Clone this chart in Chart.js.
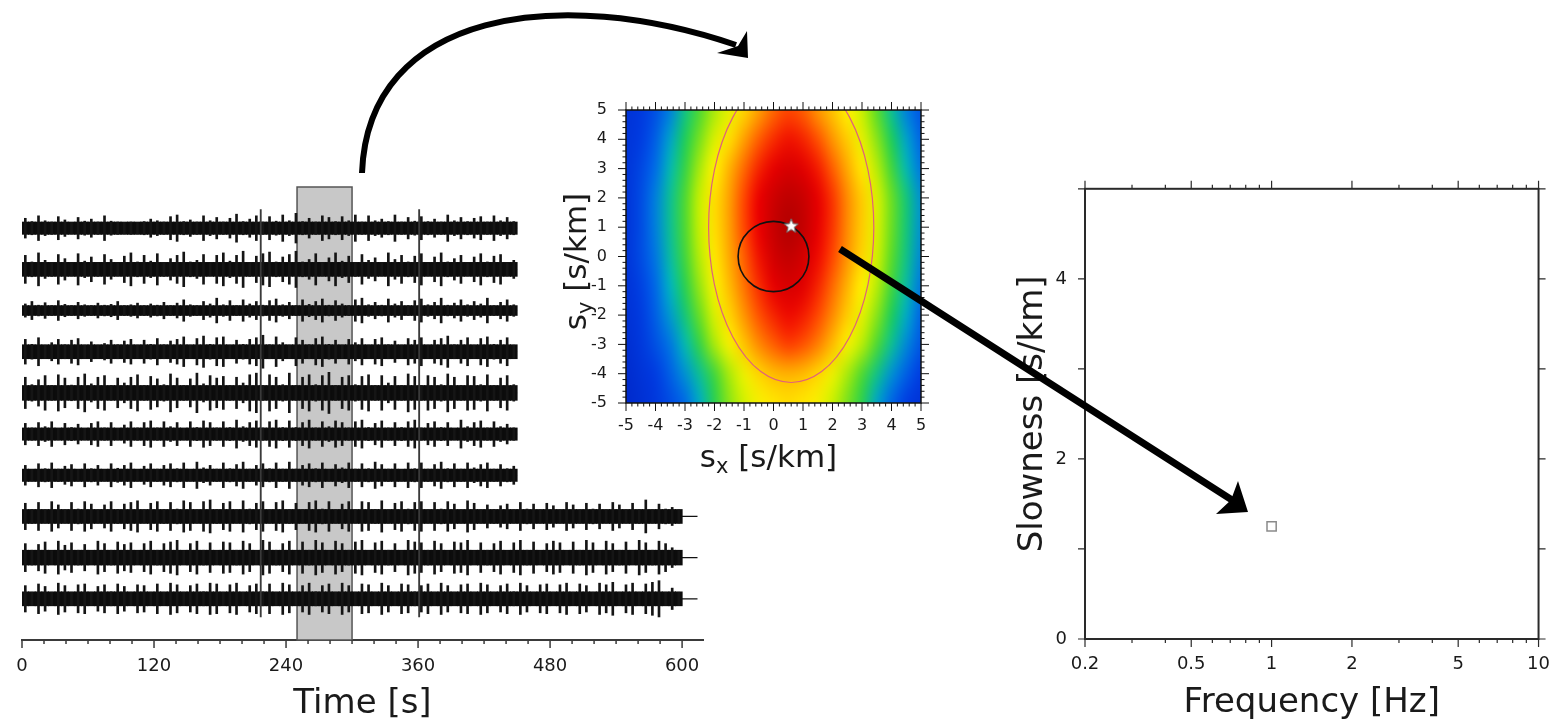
<!DOCTYPE html>
<html>
<head>
<meta charset="utf-8">
<title>Array beamforming: traces, slowness map, dispersion</title>
<script src="https://cdn.jsdelivr.net/npm/chart.js@4.4.1/dist/chart.umd.min.js"></script>
<style>
  html, body { margin: 0; padding: 0; background: #ffffff; }
  body { width: 1552px; height: 723px; position: relative; overflow: hidden; }
  canvas { position: absolute; }
</style>
</head>
<body>
<canvas id="traces" width="720" height="563" style="left:0px;top:160px"></canvas>
<canvas id="slowmap" width="420" height="420" style="left:520px;top:80px"></canvas>
<canvas id="freq" width="575" height="563" style="left:990px;top:160px"></canvas>
<canvas id="arrows" width="1552" height="723" style="left:0px;top:0px;pointer-events:none"></canvas>
<script>
// ---------------- seismogram section ----------------
// envelope peaks per 6 s bin, in hundredths of the trace spacing
const binSeconds = 6;
const trace1 = [24,16,30,18,15,28,20,14,26,17, 22,15,30,17,15,14,15,14,16,22, 18,15,28,32,16,20,15,30,18,26, 15,24,34,16,22,30,15,28,17,32, 18,36,16,24,15,30,26,16,28,18, 32,15,30,18,22,16,32,15,26,17, 28,16,22,15,32,18,26,16,24,28, 15,30,18,26,16];
const trace2 = [34,18,40,22,17,36,26,16,38,20, 30,17,36,24,16,32,40,18,34,20, 38,17,26,34,42,18,22,36,16,34, 40,20,34,44,17,32,38,42,18,30, 36,44,18,24,38,16,28,40,20,32, 17,36,22,28,16,40,24,34,18,32, 38,16,30,40,18,26,34,16,30,38, 18,32,36,16,22];
const trace3 = [16,22,13,19,12,24,15,12,20,14, 12,18,13,15,22,12,14,18,12,16, 13,20,12,18,26,14,12,22,16,30, 14,24,12,26,16,22,13,24,28,14, 20,12,26,15,22,28,13,24,16,12, 26,30,14,20,13,28,16,22,12,24, 28,14,20,30,13,18,26,14,22,16, 30,12,20,26,14];
const trace4 = [30,18,34,16,22,30,17,28,32,16, 24,16,20,28,17,26,30,16,28,18, 32,17,26,30,36,16,32,38,18,34, 36,16,28,18,30,34,40,17,36,22, 16,34,28,17,32,36,18,28,16,30, 22,32,16,30,34,17,26,16,32,28, 34,16,28,32,38,17,28,34,16,32, 36,18,28,34,16];
const trace5 = [38,20,32,42,18,44,36,19,38,46, 22,38,42,18,36,24,38,44,18,40, 34,20,46,36,18,34,48,22,42,36, 40,18,38,24,44,48,18,44,38,20, 48,18,38,44,20,42,50,18,38,42, 20,40,44,18,42,24,40,18,46,40, 18,42,38,20,46,38,18,42,40,20, 44,18,36,42,20];
const trace6 = [26,15,28,18,30,14,26,16,24,14, 26,30,15,28,14,22,30,15,28,32, 15,30,18,28,14,30,16,32,28,15, 30,16,34,18,28,32,15,30,34,16, 32,16,28,34,15,30,18,32,28,15, 30,34,16,26,32,15,28,16,30,34, 15,26,30,16,28,14,34,18,28,32, 15,30,18,24,15];
const trace7 = [24,14,28,16,30,15,22,26,14,28, 16,24,14,28,17,24,30,14,22,28, 15,24,28,16,30,14,32,18,24,15, 30,16,26,32,15,24,28,16,30,15, 32,15,24,28,16,30,14,26,18,30, 15,28,16,32,26,15,28,14,30,16, 30,15,26,32,16,28,15,30,18,26, 30,15,26,16,22];
const trace8 = [32,17,34,16,36,28,16,34,18,36, 30,16,28,36,17,30,34,38,16,32, 36,17,34,18,38,34,16,36,40,17, 32,36,16,38,18,32,36,16,34,38, 17,32,16,34,38,18,36,16,30,36, 16,36,34,17,38,16,32,36,18,34, 36,16,34,18,36,30,16,38,32,16, 28,17,26,30,16,34,18,30,16,32, 26,16,34,28,16,32,18,30,16,34, 28,16,32,17,40,16,30,18,22,16];
const trace9 = [34,18,32,38,17,40,30,36,18,32, 17,40,34,18,38,32,36,17,34,40, 18,34,38,42,17,34,40,18,36,17, 38,36,18,40,34,17,42,38,18,34, 40,17,38,18,42,36,17,40,34,18, 38,42,17,36,40,18,34,17,42,38, 36,18,40,34,17,38,36,42,17,36, 18,34,40,17,36,42,18,38,17,34, 40,36,17,38,18,42,36,17,40,34, 18,38,17,42,36,18,40,34,24,16];
const trace10 = [32,16,36,30,16,38,32,16,34,36, 16,30,34,17,36,30,16,34,32,16, 36,16,38,34,16,32,36,17,38,36, 16,34,38,16,32,36,17,36,16,38, 34,16,32,38,17,32,36,16,38,32, 16,36,34,16,38,32,16,36,34,17, 32,36,16,38,32,16,34,36,16,38, 34,16,32,36,17,38,32,16,34,36, 16,34,38,16,36,32,16,38,34,40, 16,34,38,16,36,40,44,16,26,16];
const traceCore = [15, 17, 12, 17, 18, 15, 15, 17, 18, 17];        // steady noise half-width
const traceEnds = [450, 450, 450, 450, 450, 450, 450, 614, 614, 614]; // record length (s)
const glitchTimes = [217, 361];          // spikes seen on every station (s)
const glitchSpan = [0.56, 10.45];        // vertical extent in trace units
const windowStart = 250;                 // analysis window (s)
const windowEnd = 300;
const windowTop = 11;
const timeLabelStep = 120;
const timeMinorStep = 20;

// ---------------- slowness map ----------------
const sxGrid = [-5,-4.5,-4,-3.5,-3,-2.5,-2,-1.5,-1,-0.5,0,0.5,1,1.5,2,2.5,3,3.5,4,4.5,5];
const syGrid = [5,4,3,2,1,0,-1,-2,-3,-4,-5];
const beamPower = [
  [.14,.18,.24,.32,.42,.49,.55,.60,.66,.72,.77,.80,.78,.73,.68,.63,.57,.50,.41,.32,.25],
  [.15,.20,.27,.36,.45,.52,.59,.65,.72,.78,.83,.86,.84,.79,.73,.67,.60,.53,.45,.36,.28],
  [.15,.22,.30,.39,.47,.55,.63,.70,.77,.84,.89,.92,.90,.85,.78,.71,.64,.56,.48,.39,.31],
  [.15,.23,.32,.41,.49,.57,.65,.72,.80,.88,.94,.97,.95,.89,.82,.74,.67,.59,.51,.43,.34],
  [.15,.23,.32,.41,.49,.57,.65,.72,.80,.88,.95,.99,.96,.89,.82,.74,.67,.59,.51,.43,.34],
  [.15,.23,.31,.40,.48,.56,.64,.71,.78,.86,.93,.96,.93,.87,.80,.73,.66,.58,.50,.42,.33],
  [.14,.21,.29,.38,.46,.54,.62,.69,.76,.83,.89,.92,.90,.84,.77,.70,.63,.56,.48,.40,.31],
  [.13,.19,.27,.35,.43,.51,.59,.66,.73,.79,.84,.87,.85,.80,.74,.67,.60,.53,.45,.37,.28],
  [.11,.17,.24,.31,.39,.47,.55,.62,.68,.74,.78,.81,.79,.75,.69,.62,.56,.49,.41,.33,.25],
  [.09,.14,.20,.27,.34,.41,.48,.55,.61,.66,.69,.70,.69,.66,.61,.55,.49,.42,.34,.27,.20],
  [.08,.12,.17,.23,.29,.37,.46,.53,.58,.62,.64,.65,.64,.62,.57,.52,.46,.36,.28,.20,.14]
];
const colourStops = [0, .20, .30, .38, .45, .50, .57, .63, .72, .80, .88, 1];
const colourRGB = [[0,30,190],[0,60,225],[0,110,230],[0,180,190],[30,205,90],[90,220,40],
                   [200,240,0],[255,240,0],[255,160,0],[255,70,0],[235,0,0],[175,0,0]];
const ellipseCenter = [0.6, 1.0];   // 90% contour
const ellipseAxes = [2.8, 5.3];
const circleCenter = [0, 0];
const circleRadius = 1.2;
const peakSx = [0.6];
const peakSy = [1.05];
const slowTicks = [-5,-4,-3,-2,-1,0,1,2,3,4,5];

// ---------------- slowness vs frequency ----------------
const freqHz = [1];
const slownessSkm = [1.25];
const freqTicks = [0.2, 0.5, 1, 2, 5, 10];
const freqMinor = [0.3, 0.4, 0.6, 0.7, 0.8, 0.9, 3, 4, 6, 7, 8, 9];
const slowAxisTicks = [0, 1, 2, 3, 4, 5];

const FAMILY = 'DejaVu Sans';
const CSSFONT = '"DejaVu Sans", "Liberation Sans", sans-serif';
const INK = '#1a1a1a';

Chart.defaults.font.family = FAMILY;
Chart.defaults.color = INK;

const baseOpts = {
  responsive: false, animation: false, devicePixelRatio: 1, events: [],
  plugins: { legend: { display: false }, tooltip: { enabled: false } }
};

// ================= chart 1: seismograms =================
const traceArrays = [trace1, trace2, trace3, trace4, trace5, trace6, trace7, trace8, trace9, trace10];
const traceSets = [];
traceArrays.forEach((amps, k) => {
  const off = traceArrays.length - k;
  const core = traceCore[k] / 100;
  traceSets.push({
    type: 'line', data: [{ x: 0, y: off }, { x: traceEnds[k], y: off }],
    borderColor: '#111', borderWidth: 1.2, pointRadius: 0, order: 4
  });
  traceSets.push({
    type: 'bar', grouped: false, order: 3, barThickness: 7, backgroundColor: '#0c0c0c',
    data: amps.map((a, i) => ({ x: (i + 0.5) * binSeconds, y: [off - core, off + core] }))
  });
  traceSets.push({
    type: 'bar', grouped: false, order: 2, barThickness: 2, backgroundColor: '#151515',
    data: amps.map((a, i) => ({ x: (i + 0.5) * binSeconds, y: [off - a / 100, off + a / 100] }))
  });
});
traceSets.push({
  type: 'bar', grouped: false, order: 1, barThickness: 1.2, backgroundColor: '#3a3a3a',
  data: glitchTimes.map(t => ({ x: t, y: glitchSpan }))
});

const sectionPlugin = {
  id: 'section',
  beforeDatasetsDraw(chart) {
    const { ctx, scales: { x, y } } = chart;
    const x0 = x.getPixelForValue(windowStart), x1 = x.getPixelForValue(windowEnd);
    const yt = y.getPixelForValue(windowTop), yb = y.getPixelForValue(0);
    ctx.save();
    ctx.fillStyle = '#c8c8c8';
    ctx.fillRect(x0, yt, x1 - x0, yb - yt);
    ctx.strokeStyle = '#555';
    ctx.lineWidth = 1.5;
    ctx.strokeRect(x0, yt, x1 - x0, yb - yt);
    ctx.restore();
  },
  afterDraw(chart) {
    const { ctx, chartArea, scales: { x } } = chart;
    ctx.save();
    ctx.strokeStyle = '#3a3a3a';
    ctx.lineWidth = 1.5;
    for (let t = 0; t <= 600; t += timeMinorStep) {
      const px = x.getPixelForValue(t);
      ctx.beginPath();
      ctx.moveTo(px, chartArea.bottom);
      ctx.lineTo(px, chartArea.bottom + (t % timeLabelStep === 0 ? 8 : 4));
      ctx.stroke();
    }
    ctx.fillStyle = INK;
    ctx.font = '34px ' + CSSFONT;
    ctx.textAlign = 'center';
    ctx.textBaseline = 'alphabetic';
    ctx.fillText('Time [s]', (chartArea.left + chartArea.right) / 2, chartArea.bottom + 73);
    ctx.restore();
  }
};

new Chart(document.getElementById('traces'), {
  type: 'bar',
  data: { datasets: traceSets },
  options: Object.assign({}, baseOpts, {
    layout: { padding: { left: 22, right: 17, top: 27, bottom: 0 } },
    datasets: { bar: { grouped: false } },
    scales: {
      x: {
        type: 'linear', position: 'bottom', min: 0, max: 619, offset: false,
        grid: { display: false, drawTicks: false, offset: false },
        border: { display: true, color: '#3a3a3a', width: 2 },
        ticks: { stepSize: timeLabelStep, includeBounds: false, padding: 16, maxRotation: 0,
                 autoSkip: false, color: INK, font: { family: FAMILY, size: 18 } },
        afterFit(s) { s.height = 83; }
      },
      y: { type: 'linear', min: 0, max: windowTop, display: false }
    }
  }),
  plugins: [sectionPlugin]
});

// ================= chart 2: slowness map =================
function powerColour(v) {
  for (let i = 1; i < colourStops.length; i++) {
    if (v <= colourStops[i]) {
      const f = (v - colourStops[i - 1]) / (colourStops[i] - colourStops[i - 1]);
      const a = colourRGB[i - 1], b = colourRGB[i];
      return [0, 1, 2].map(c => Math.round(a[c] + (b[c] - a[c]) * f));
    }
  }
  return colourRGB[colourRGB.length - 1];
}

function starImage() {
  const c = document.createElement('canvas');
  c.width = 18; c.height = 18;
  const g = c.getContext('2d');
  g.beginPath();
  for (let i = 0; i < 10; i++) {
    const r = i % 2 ? 3.2 : 7.5;
    const ang = -Math.PI / 2 + i * Math.PI / 5;
    const px = 9 + r * Math.cos(ang), py = 9.5 + r * Math.sin(ang);
    if (i === 0) g.moveTo(px, py); else g.lineTo(px, py);
  }
  g.closePath();
  g.fillStyle = '#ffffff';
  g.fill();
  g.strokeStyle = '#6a6a6a';
  g.lineWidth = 1;
  g.stroke();
  return c;
}

function drawSubscripted(ctx, cx, cy, size, sub, rotated) {
  ctx.save();
  ctx.translate(cx, cy);
  if (rotated) ctx.rotate(-Math.PI / 2);
  const main = size + 'px ' + CSSFONT;
  const small = Math.round(size * 0.68) + 'px ' + CSSFONT;
  const rest = ' [s/km]';
  ctx.font = main;
  const w1 = ctx.measureText('s').width, w3 = ctx.measureText(rest).width;
  ctx.font = small;
  const w2 = ctx.measureText(sub).width;
  const x0 = -(w1 + w2 + w3) / 2;
  ctx.fillStyle = INK;
  ctx.textAlign = 'left';
  ctx.textBaseline = 'alphabetic';
  ctx.font = main;
  ctx.fillText('s', x0, 0);
  ctx.font = small;
  ctx.fillText(sub, x0 + w1, size * 0.2);
  ctx.font = main;
  ctx.fillText(rest, x0 + w1 + w2, 0);
  ctx.restore();
}

const beamPlugin = {
  id: 'beam',
  beforeDatasetsDraw(chart) {
    const { ctx, chartArea: a, scales: { x, y } } = chart;
    const off = document.createElement('canvas');
    off.width = sxGrid.length; off.height = syGrid.length;
    const g = off.getContext('2d');
    const img = g.createImageData(off.width, off.height);
    beamPower.forEach((row, j) => row.forEach((v, i) => {
      const c = powerColour(v), k = (j * off.width + i) * 4;
      img.data[k] = c[0]; img.data[k + 1] = c[1]; img.data[k + 2] = c[2]; img.data[k + 3] = 255;
    }));
    g.putImageData(img, 0, 0);
    const hx = (sxGrid[1] - sxGrid[0]) / 2, hy = (syGrid[0] - syGrid[1]) / 2;
    const left = x.getPixelForValue(sxGrid[0] - hx), right = x.getPixelForValue(sxGrid[sxGrid.length - 1] + hx);
    const top = y.getPixelForValue(syGrid[0] + hy), bottom = y.getPixelForValue(syGrid[syGrid.length - 1] - hy);
    ctx.save();
    ctx.beginPath();
    ctx.rect(a.left, a.top, a.width, a.height);
    ctx.clip();
    ctx.imageSmoothingEnabled = true;
    ctx.imageSmoothingQuality = 'high';
    ctx.drawImage(off, left, top, right - left, bottom - top);
    // confidence contour
    const ex = x.getPixelForValue(ellipseCenter[0]), ey = y.getPixelForValue(ellipseCenter[1]);
    ctx.beginPath();
    ctx.ellipse(ex, ey, Math.abs(x.getPixelForValue(ellipseCenter[0] + ellipseAxes[0]) - ex),
                Math.abs(y.getPixelForValue(ellipseCenter[1] + ellipseAxes[1]) - ey), 0, 0, Math.PI * 2);
    ctx.strokeStyle = '#e0607c';
    ctx.lineWidth = 1.2;
    ctx.stroke();
    // slowness circle
    const ccx = x.getPixelForValue(circleCenter[0]), ccy = y.getPixelForValue(circleCenter[1]);
    ctx.beginPath();
    ctx.ellipse(ccx, ccy, Math.abs(x.getPixelForValue(circleCenter[0] + circleRadius) - ccx),
                Math.abs(y.getPixelForValue(circleCenter[1] + circleRadius) - ccy), 0, 0, Math.PI * 2);
    ctx.strokeStyle = '#111';
    ctx.lineWidth = 1.6;
    ctx.stroke();
    ctx.restore();
  },
  afterDraw(chart) {
    const { ctx, chartArea: a, scales: { x, y } } = chart;
    ctx.save();
    ctx.strokeStyle = '#111';
    ctx.lineWidth = 1.5;
    ctx.strokeRect(a.left, a.top, a.width, a.height);
    ctx.lineWidth = 1;
    for (let i = -25; i <= 25; i++) {
      const v = i / 5, len = i % 5 === 0 ? 8 : 3.5;
      const px = x.getPixelForValue(v), py = y.getPixelForValue(v);
      ctx.beginPath();
      ctx.moveTo(px, a.bottom); ctx.lineTo(px, a.bottom + len);
      ctx.moveTo(px, a.top); ctx.lineTo(px, a.top - len);
      ctx.moveTo(a.left, py); ctx.lineTo(a.left - len, py);
      ctx.moveTo(a.right, py); ctx.lineTo(a.right + len, py);
      ctx.stroke();
    }
    ctx.restore();
    drawSubscripted(ctx, (a.left + a.right) / 2 - 5, a.bottom + 64, 31, 'x', false);
    drawSubscripted(ctx, a.left - 40, (a.top + a.bottom) / 2 + 5, 31, 'y', true);
  }
};

new Chart(document.getElementById('slowmap'), {
  type: 'scatter',
  data: {
    datasets: [{
      data: peakSx.map((sx, i) => ({ x: sx, y: peakSy[i] })),
      pointStyle: starImage(), pointRadius: 8
    }]
  },
  options: Object.assign({}, baseOpts, {
    layout: { padding: { left: 0, right: 19, top: 30, bottom: 0 } },
    scales: {
      x: {
        type: 'linear', min: -5, max: 5,
        grid: { display: false, drawTicks: false }, border: { display: false },
        afterBuildTicks(s) { s.ticks = slowTicks.map(v => ({ value: v })); },
        ticks: { padding: 13, maxRotation: 0, autoSkip: false, color: INK, font: { family: FAMILY, size: 16 } },
        afterFit(s) { s.height = 97; }
      },
      y: {
        type: 'linear', min: -5, max: 5,
        grid: { display: false, drawTicks: false }, border: { display: false },
        afterBuildTicks(s) { s.ticks = slowTicks.map(v => ({ value: v })); },
        ticks: { padding: 19, autoSkip: false, color: INK, font: { family: FAMILY, size: 16 } },
        afterFit(s) { s.width = 106; }
      }
    }
  }),
  plugins: [beamPlugin]
});

// ================= chart 3: slowness vs frequency =================
const freqPlugin = {
  id: 'freqFrame',
  afterDraw(chart) {
    const { ctx, chartArea: a, scales: { x, y } } = chart;
    ctx.save();
    ctx.strokeStyle = '#2a2a2a';
    ctx.lineWidth = 2;
    ctx.strokeRect(a.left, a.top, a.width, a.height);
    ctx.lineWidth = 1.2;
    const xt = freqTicks.map(v => [v, 8]).concat(freqMinor.map(v => [v, 4]));
    xt.forEach(([v, len]) => {
      const px = x.getPixelForValue(v);
      ctx.beginPath();
      ctx.moveTo(px, a.bottom); ctx.lineTo(px, a.bottom + len);
      ctx.moveTo(px, a.top); ctx.lineTo(px, a.top - len);
      ctx.stroke();
    });
    slowAxisTicks.forEach(v => {
      const py = y.getPixelForValue(v);
      ctx.beginPath();
      ctx.moveTo(a.left, py); ctx.lineTo(a.left - 7, py);
      ctx.moveTo(a.right, py); ctx.lineTo(a.right + 7, py);
      ctx.stroke();
    });
    ctx.fillStyle = INK;
    ctx.font = '34px ' + CSSFONT;
    ctx.textAlign = 'center';
    ctx.textBaseline = 'alphabetic';
    ctx.fillText('Frequency [Hz]', (a.left + a.right) / 2, a.bottom + 73);
    ctx.translate(a.left - 43, (a.top + a.bottom) / 2);
    ctx.rotate(-Math.PI / 2);
    ctx.fillText('Slowness [s/km]', 0, 0);
    ctx.restore();
  }
};

new Chart(document.getElementById('freq'), {
  type: 'scatter',
  data: {
    datasets: [{
      data: freqHz.map((f, i) => ({ x: f, y: slownessSkm[i] })),
      pointStyle: 'rect', pointRadius: 6.5, borderWidth: 1.5,
      borderColor: '#8a8a8a', backgroundColor: '#ffffff'
    }]
  },
  options: Object.assign({}, baseOpts, {
    layout: { padding: { left: 0, right: 14, top: 26, bottom: 0 } },
    scales: {
      x: {
        type: 'logarithmic', min: 0.2, max: 10,
        grid: { display: false, drawTicks: false }, border: { display: false },
        afterBuildTicks(s) { s.ticks = freqTicks.map(v => ({ value: v })); },
        ticks: { padding: 15, maxRotation: 0, autoSkip: false, color: INK,
                 font: { family: FAMILY, size: 18 }, callback: v => String(v) },
        afterFit(s) { s.height = 84; }
      },
      y: {
        type: 'linear', min: 0, max: 5,
        grid: { display: false, drawTicks: false }, border: { display: false },
        afterBuildTicks(s) { s.ticks = slowAxisTicks.map(v => ({ value: v })); },
        ticks: { padding: 18, autoSkip: false, color: INK, font: { family: FAMILY, size: 18 },
                 callback: v => (v % 2 === 0 ? String(v) : '') },
        afterFit(s) { s.width = 95; }
      }
    }
  }),
  plugins: [freqPlugin]
});

// ================= connecting arrows =================
(function drawArrows() {
  const g = document.getElementById('arrows').getContext('2d');
  g.fillStyle = '#000';
  g.strokeStyle = '#000';
  g.lineCap = 'butt';
  // window -> slowness map
  g.lineWidth = 6;
  g.beginPath();
  g.moveTo(362, 173);
  g.bezierCurveTo(368, 10, 560, -15, 736, 45);
  g.stroke();
  g.beginPath();
  g.moveTo(748, 58); g.lineTo(747, 31); g.lineTo(738, 46); g.lineTo(717, 53);
  g.closePath();
  g.fill();
  // beam peak -> dispersion point
  g.lineWidth = 7;
  g.beginPath();
  g.moveTo(840, 249);
  g.lineTo(1232, 500);
  g.stroke();
  g.beginPath();
  g.moveTo(1248, 512); g.lineTo(1238, 481); g.lineTo(1231, 500); g.lineTo(1216, 514);
  g.closePath();
  g.fill();
})();
</script>
</body>
</html>
